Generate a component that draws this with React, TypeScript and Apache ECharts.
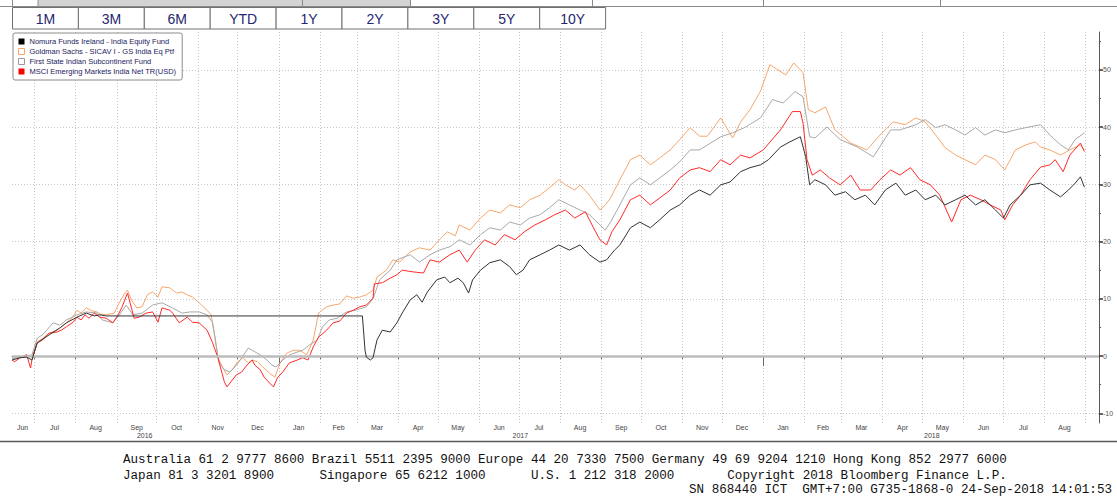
import { useEffect, useRef } from 'react';
import * as echarts from 'echarts';

const seriesNames = [
  'Nomura Funds Ireland - India Equity Fund',
  'Goldman Sachs - SICAV I - GS India Eq Ptf',
  'First State Indian Subcontinent Fund',
  'MSCI Emerging Markets India Net TR(USD)',
];

const nomuraIndia: [string, number][] = [
  ['2016-06-14', -0.7], ['2016-06-20', -0.3], ['2016-06-25', -0.2], ['2016-06-29', -0.7],
  ['2016-07-03', 2.3], ['2016-07-12', 3.7], ['2016-07-20', 4.9], ['2016-07-25', 5.8],
  ['2016-08-02', 6.8], ['2016-08-09', 7.5], ['2016-08-15', 7.0], ['2016-08-19', 7.2], ['2016-08-24', 7.0],
  ['2017-03-05', 7.0], ['2017-03-07', 1.0], ['2017-03-08', -0.2], ['2017-03-11', -0.7], ['2017-03-13', -0.3],
  ['2017-03-16', 2.8], ['2017-03-20', 4.5], ['2017-03-26', 4.2], ['2017-03-31', 5.8],
  ['2017-04-04', 7.5], ['2017-04-10', 9.8], ['2017-04-15', 10.7], ['2017-04-19', 9.4], ['2017-04-23', 11.2], ['2017-04-30', 13.3],
  ['2017-05-06', 13.8], ['2017-05-10', 12.8], ['2017-05-16', 13.6], ['2017-05-20', 12.8], ['2017-05-24', 11.0], ['2017-05-27', 13.3],
  ['2017-06-02', 15.0], ['2017-06-09', 16.3], ['2017-06-17', 16.8], ['2017-06-24', 15.6], ['2017-06-29', 14.2],
  ['2017-07-04', 15.0], ['2017-07-09', 16.8], ['2017-07-17', 17.7], ['2017-07-24', 18.5], ['2017-07-31', 19.4],
  ['2017-08-08', 18.5], ['2017-08-16', 19.4], ['2017-08-23', 17.7], ['2017-08-31', 16.4],
  ['2017-09-05', 16.8], ['2017-09-11', 18.5], ['2017-09-15', 19.4], ['2017-09-23', 22.4], ['2017-09-30', 23.4],
  ['2017-10-08', 22.4], ['2017-10-15', 23.8], ['2017-10-23', 25.5], ['2017-10-30', 26.4],
  ['2017-11-07', 28.1], ['2017-11-14', 29.0], ['2017-11-22', 28.1], ['2017-11-30', 29.9],
  ['2017-12-07', 30.4], ['2017-12-15', 32.2], ['2017-12-22', 32.9], ['2017-12-30', 33.4],
  ['2018-01-05', 34.3], ['2018-01-14', 36.5], ['2018-01-21', 37.4], ['2018-01-29', 38.3],
  ['2018-02-02', 34.8], ['2018-02-05', 29.9], ['2018-02-09', 30.8], ['2018-02-17', 29.9], ['2018-02-24', 28.1],
  ['2018-03-04', 28.7], ['2018-03-11', 27.3], ['2018-03-19', 28.1], ['2018-03-26', 26.4],
  ['2018-04-03', 29.0], ['2018-04-11', 30.2], ['2018-04-18', 28.1], ['2018-04-26', 29.0],
  ['2018-05-03', 27.3], ['2018-05-11', 28.1], ['2018-05-18', 26.4], ['2018-05-26', 27.3],
  ['2018-06-02', 28.1], ['2018-06-10', 26.4], ['2018-06-17', 27.3], ['2018-06-25', 25.5],
  ['2018-07-01', 24.1], ['2018-07-06', 26.4], ['2018-07-14', 28.1], ['2018-07-21', 29.9], ['2018-07-29', 30.2],
  ['2018-08-05', 29.0], ['2018-08-13', 27.8], ['2018-08-19', 29.0], ['2018-08-24', 30.2], ['2018-08-28', 31.3], ['2018-08-31', 29.5],
];

const goldmanIndia: [string, number][] = [
  ['2016-06-14', -0.3], ['2016-06-20', -0.2], ['2016-06-25', 0.2], ['2016-06-29', -0.2],
  ['2016-07-03', 2.4], ['2016-07-07', 3.1], ['2016-07-12', 4.0], ['2016-07-18', 4.5], ['2016-07-25', 5.8], ['2016-07-29', 6.6],
  ['2016-08-02', 8.0], ['2016-08-05', 7.5], ['2016-08-09', 8.4], ['2016-08-13', 7.9], ['2016-08-17', 7.7], ['2016-08-20', 7.3], ['2016-08-24', 7.2], ['2016-08-30', 7.5],
  ['2016-09-03', 9.4], ['2016-09-07', 11.0], ['2016-09-09', 11.5], ['2016-09-12', 9.8], ['2016-09-16', 8.4], ['2016-09-20', 8.6], ['2016-09-24', 10.7], ['2016-09-28', 11.2],
  ['2016-10-02', 10.3], ['2016-10-05', 12.1], ['2016-10-11', 11.9], ['2016-10-16', 11.0], ['2016-10-20', 11.2], ['2016-10-24', 10.7], ['2016-10-28', 10.3],
  ['2016-11-02', 9.3], ['2016-11-08', 8.0], ['2016-11-11', 7.2], ['2016-11-14', 3.3], ['2016-11-16', -0.2], ['2016-11-20', -2.1], ['2016-11-23', -3.3], ['2016-11-27', -2.4],
  ['2016-12-01', -1.0], ['2016-12-05', -0.3], ['2016-12-09', -1.2], ['2016-12-12', -0.7], ['2016-12-16', -1.0], ['2016-12-20', -1.9], ['2016-12-25', -3.0], ['2016-12-29', -3.7],
  ['2017-01-02', -1.2], ['2017-01-07', 0.5], ['2017-01-12', 1.0], ['2017-01-17', 1.0], ['2017-01-22', 0.2], ['2017-01-27', 2.8], ['2017-01-31', 7.5],
  ['2017-02-06', 8.6], ['2017-02-11', 8.9], ['2017-02-16', 9.1], ['2017-02-21', 10.5], ['2017-02-26', 10.1],
  ['2017-03-03', 10.3], ['2017-03-08', 10.7], ['2017-03-13', 11.5], ['2017-03-16', 13.8], ['2017-03-23', 15.0], ['2017-03-28', 16.8],
  ['2017-04-02', 16.4], ['2017-04-10', 18.2], ['2017-04-17', 18.9], ['2017-04-25', 18.5],
  ['2017-05-02', 20.3], ['2017-05-08', 21.7], ['2017-05-14', 21.0], ['2017-05-17', 22.9], ['2017-05-25', 22.0],
  ['2017-06-02', 24.1], ['2017-06-09', 25.5], ['2017-06-17', 25.0], ['2017-06-24', 26.4],
  ['2017-07-02', 25.9], ['2017-07-09', 27.3], ['2017-07-17', 28.1], ['2017-07-24', 29.4], ['2017-07-31', 30.8],
  ['2017-08-05', 29.9], ['2017-08-12', 29.0], ['2017-08-16', 29.9], ['2017-08-23', 28.1], ['2017-08-31', 25.5],
  ['2017-09-04', 26.4], ['2017-09-08', 27.6], ['2017-09-11', 29.0], ['2017-09-15', 30.8], ['2017-09-23', 34.3], ['2017-09-30', 35.1],
  ['2017-10-08', 33.4], ['2017-10-15', 34.6], ['2017-10-23', 36.0], ['2017-10-30', 37.8],
  ['2017-11-07', 39.9], ['2017-11-14', 38.4], ['2017-11-20', 38.4], ['2017-11-30', 41.6],
  ['2017-12-09', 38.1], ['2017-12-15', 40.9], ['2017-12-22', 43.0], ['2017-12-30', 46.3],
  ['2018-01-06', 50.9], ['2018-01-18', 49.1], ['2018-01-24', 51.2], ['2018-01-31', 49.5],
  ['2018-02-04', 43.0], ['2018-02-09', 42.5], ['2018-02-17', 43.5], ['2018-02-24', 39.5],
  ['2018-03-08', 37.2], ['2018-03-20', 36.0], ['2018-03-30', 38.6],
  ['2018-04-09', 40.9], ['2018-04-18', 40.4], ['2018-04-26', 41.6],
  ['2018-05-03', 40.9], ['2018-05-11', 38.6], ['2018-05-18', 36.4], ['2018-05-26', 35.1],
  ['2018-06-02', 34.3], ['2018-06-10', 33.4], ['2018-06-17', 35.1], ['2018-06-25', 34.3],
  ['2018-07-02', 32.5], ['2018-07-10', 36.0], ['2018-07-18', 36.9], ['2018-07-25', 37.4], ['2018-07-29', 36.5],
  ['2018-08-05', 36.0], ['2018-08-13', 35.1], ['2018-08-20', 36.0], ['2018-08-28', 36.9], ['2018-08-31', 36.0],
];

const firstStateIndia: [string, number][] = [
  ['2016-06-14', -0.5], ['2016-06-20', -0.2], ['2016-06-25', 0.0], ['2016-06-29', 0.2],
  ['2016-07-03', 3.1], ['2016-07-07', 3.7], ['2016-07-15', 5.8], ['2016-07-20', 5.4], ['2016-07-25', 6.3],
  ['2016-08-02', 7.2], ['2016-08-09', 7.7], ['2016-08-17', 7.5], ['2016-08-21', 6.3], ['2016-08-29', 5.8],
  ['2016-09-03', 7.2], ['2016-09-08', 8.9], ['2016-09-13', 7.2], ['2016-09-20', 7.5], ['2016-09-28', 8.9],
  ['2016-10-05', 9.3], ['2016-10-13', 8.4], ['2016-10-20', 7.5], ['2016-10-26', 7.7],
  ['2016-11-02', 7.7], ['2016-11-08', 7.2], ['2016-11-12', 5.9], ['2016-11-15', 1.6], ['2016-11-17', -1.2], ['2016-11-21', -2.4], ['2016-11-25', -2.8], ['2016-11-29', -1.9],
  ['2016-12-03', -0.7], ['2016-12-09', 1.4], ['2016-12-12', 1.0], ['2016-12-18', 0.2], ['2016-12-23', -0.7], ['2016-12-27', -1.6], ['2016-12-30', -1.9],
  ['2017-01-04', -0.7], ['2017-01-09', 0.2], ['2017-01-15', 0.7], ['2017-01-19', 1.0], ['2017-01-24', 1.9], ['2017-01-30', 2.8],
  ['2017-02-03', 5.1], ['2017-02-08', 6.3], ['2017-02-14', 6.6], ['2017-02-21', 7.7], ['2017-02-28', 8.0],
  ['2017-03-08', 8.6], ['2017-03-13', 10.0], ['2017-03-18', 13.3], ['2017-03-26', 15.0], ['2017-03-31', 16.8],
  ['2017-04-10', 17.7], ['2017-04-17', 16.4], ['2017-04-25', 17.7],
  ['2017-05-02', 18.5], ['2017-05-10', 19.1], ['2017-05-17', 20.3], ['2017-05-25', 19.4],
  ['2017-06-02', 21.2], ['2017-06-09', 22.4], ['2017-06-17', 22.0], ['2017-06-24', 23.4],
  ['2017-07-02', 22.9], ['2017-07-09', 24.1], ['2017-07-17', 24.7], ['2017-07-24', 25.9], ['2017-07-31', 27.3],
  ['2017-08-08', 26.4], ['2017-08-16', 25.5], ['2017-08-23', 24.7], ['2017-08-31', 22.9],
  ['2017-09-04', 22.0], ['2017-09-08', 23.4], ['2017-09-15', 26.4], ['2017-09-23', 29.9], ['2017-09-30', 31.1],
  ['2017-10-08', 29.9], ['2017-10-15', 31.1], ['2017-10-23', 32.5], ['2017-10-30', 33.9],
  ['2017-11-07', 36.0], ['2017-11-14', 36.0], ['2017-11-30', 38.3],
  ['2017-12-09', 39.0], ['2017-12-18', 39.9], ['2017-12-30', 41.6],
  ['2018-01-08', 44.8], ['2018-01-16', 44.2], ['2018-01-25', 46.2], ['2018-01-31', 45.3],
  ['2018-02-05', 38.3], ['2018-02-09', 38.1], ['2018-02-18', 40.0], ['2018-02-28', 37.8],
  ['2018-03-13', 36.5], ['2018-03-25', 34.8],
  ['2018-04-07', 39.5], ['2018-04-14', 39.5], ['2018-04-26', 40.4],
  ['2018-05-03', 41.3], ['2018-05-11', 39.9], ['2018-05-18', 40.4], ['2018-05-26', 39.5],
  ['2018-06-02', 38.6], ['2018-06-10', 39.9], ['2018-06-17', 38.6], ['2018-06-25', 39.5],
  ['2018-07-02', 39.0], ['2018-07-10', 39.5], ['2018-07-18', 39.9], ['2018-07-29', 40.4],
  ['2018-08-05', 38.6], ['2018-08-13', 36.9], ['2018-08-19', 36.0], ['2018-08-24', 37.8], ['2018-08-31', 39.0],
];

const msciIndia: [string, number][] = [
  ['2016-06-14', -0.7], ['2016-06-16', -1.0], ['2016-06-20', -0.3], ['2016-06-25', 0.2], ['2016-06-28', -2.1], ['2016-06-29', -0.7],
  ['2016-07-03', 2.3], ['2016-07-07', 2.8], ['2016-07-12', 4.0], ['2016-07-18', 4.2], ['2016-07-21', 4.5], ['2016-07-25', 5.1], ['2016-07-30', 5.9],
  ['2016-08-02', 6.8], ['2016-08-05', 6.3], ['2016-08-08', 7.2], ['2016-08-11', 6.6], ['2016-08-15', 7.5], ['2016-08-19', 6.8], ['2016-08-24', 6.6], ['2016-08-29', 5.8],
  ['2016-09-02', 7.2], ['2016-09-05', 8.6], ['2016-09-09', 11.0], ['2016-09-12', 8.4], ['2016-09-14', 6.6], ['2016-09-18', 6.8], ['2016-09-23', 7.5], ['2016-09-28', 7.7],
  ['2016-10-02', 5.9], ['2016-10-05', 8.4], ['2016-10-11', 8.0], ['2016-10-13', 7.5], ['2016-10-18', 5.8], ['2016-10-24', 6.8], ['2016-10-28', 5.9],
  ['2016-11-02', 5.8], ['2016-11-08', 4.5], ['2016-11-12', 2.4], ['2016-11-16', -0.2], ['2016-11-19', -2.8], ['2016-11-21', -4.5], ['2016-11-23', -5.4], ['2016-11-27', -4.2], ['2016-11-30', -3.3],
  ['2016-12-04', -2.8], ['2016-12-08', -1.6], ['2016-12-12', -0.7], ['2016-12-14', -1.6], ['2016-12-18', -2.4], ['2016-12-21', -3.7], ['2016-12-25', -4.7], ['2016-12-28', -5.4], ['2016-12-31', -3.8],
  ['2017-01-04', -2.8], ['2017-01-09', -1.2], ['2017-01-15', -0.7], ['2017-01-19', -0.3], ['2017-01-23', -0.7], ['2017-01-27', 1.6], ['2017-01-31', 3.3],
  ['2017-02-06', 4.5], ['2017-02-11', 5.8], ['2017-02-16', 6.1], ['2017-02-21', 7.5], ['2017-02-26', 8.0],
  ['2017-03-03', 8.6], ['2017-03-08', 8.9], ['2017-03-13', 10.1], ['2017-03-14', 12.6], ['2017-03-20', 12.8], ['2017-03-26', 13.6], ['2017-03-31', 14.2],
  ['2017-04-04', 15.0], ['2017-04-12', 14.7], ['2017-04-20', 14.5], ['2017-04-25', 16.8],
  ['2017-05-02', 16.4], ['2017-05-10', 17.7], ['2017-05-17', 18.5], ['2017-05-23', 16.4], ['2017-05-29', 18.5],
  ['2017-06-05', 20.3], ['2017-06-13', 19.4], ['2017-06-20', 21.2], ['2017-06-28', 20.3],
  ['2017-07-05', 21.7], ['2017-07-13', 22.9], ['2017-07-21', 23.8], ['2017-07-28', 24.7],
  ['2017-08-05', 25.5], ['2017-08-12', 24.1], ['2017-08-20', 25.2], ['2017-08-27', 22.0], ['2017-08-31', 20.3],
  ['2017-09-05', 19.4], ['2017-09-09', 21.7], ['2017-09-15', 23.8], ['2017-09-23', 27.3], ['2017-09-30', 28.1],
  ['2017-10-08', 26.4], ['2017-10-15', 27.6], ['2017-10-23', 29.0], ['2017-10-30', 31.1],
  ['2017-11-07', 32.5], ['2017-11-14', 32.9], ['2017-11-22', 32.2], ['2017-11-30', 34.3],
  ['2017-12-07', 33.4], ['2017-12-15', 35.1], ['2017-12-22', 34.6],
  ['2018-01-01', 36.0], ['2018-01-14', 39.5], ['2018-01-23', 42.7], ['2018-01-29', 42.7], ['2018-01-31', 40.7],
  ['2018-02-03', 34.3], ['2018-02-07', 31.6], ['2018-02-13', 32.5], ['2018-02-20', 31.1], ['2018-02-28', 29.9],
  ['2018-03-08', 31.6], ['2018-03-15', 29.0], ['2018-03-23', 29.0], ['2018-03-30', 30.8],
  ['2018-04-07', 32.5], ['2018-04-14', 31.6], ['2018-04-22', 32.9], ['2018-04-29', 30.8],
  ['2018-05-07', 29.9], ['2018-05-14', 28.1], ['2018-05-23', 23.4], ['2018-05-30', 27.3],
  ['2018-06-06', 28.1], ['2018-06-14', 27.3], ['2018-06-21', 26.4], ['2018-06-29', 25.5],
  ['2018-07-02', 23.8], ['2018-07-08', 26.4], ['2018-07-14', 28.1], ['2018-07-21', 30.8], ['2018-07-29', 33.0],
  ['2018-08-05', 33.4], ['2018-08-09', 34.3], ['2018-08-15', 32.2], ['2018-08-20', 35.1], ['2018-08-28', 37.2], ['2018-08-31', 35.7],
];

const xMin = '2016-06-14';
const xMax = '2018-09-11';
const yMin = -11.7;
const yMax = 56.6;

const monthTickDates = [
  '2016-07-01', '2016-08-01', '2016-09-01', '2016-10-01', '2016-11-01', '2016-12-01',
  '2017-01-01', '2017-02-01', '2017-03-01', '2017-04-01', '2017-05-01', '2017-06-01',
  '2017-07-01', '2017-08-01', '2017-09-01', '2017-10-01', '2017-11-01', '2017-12-01',
  '2018-01-01', '2018-02-01', '2018-03-01', '2018-04-01', '2018-05-01', '2018-06-01',
  '2018-07-01', '2018-08-01', '2018-09-01',
];
const monthLabelDates = [
  '2016-06-22', '2016-07-16', '2016-08-16', '2016-09-16', '2016-10-16', '2016-11-16', '2016-12-16',
  '2017-01-16', '2017-02-15', '2017-03-16', '2017-04-16', '2017-05-16', '2017-06-16',
  '2017-07-16', '2017-08-16', '2017-09-16', '2017-10-16', '2017-11-16', '2017-12-16',
  '2018-01-16', '2018-02-15', '2018-03-16', '2018-04-16', '2018-05-16', '2018-06-16',
  '2018-07-16', '2018-08-16',
];
const monthLabels = [
  'Jun', 'Jul', 'Aug', 'Sep', 'Oct', 'Nov', 'Dec',
  'Jan', 'Feb', 'Mar', 'Apr', 'May', 'Jun', 'Jul', 'Aug', 'Sep', 'Oct', 'Nov', 'Dec',
  'Jan', 'Feb', 'Mar', 'Apr', 'May', 'Jun', 'Jul', 'Aug',
];
const yearLabelDates = ['2016-09-22', '2017-07-02', '2018-05-08'];
const yearLabels = ['2016', '2017', '2018'];
const yearBoundaryDates = ['2017-01-01', '2018-01-01'];

const yMajorTicks = [-10, 0, 10, 20, 30, 40, 50];
const yMinorTicks = [-5, 5, 15, 25, 35, 45, 55];
const zeroLine = 0;

const periodButtons = ['1M', '3M', '6M', 'YTD', '1Y', '2Y', '3Y', '5Y', '10Y'];

const footerLine1 =
  'Australia 61 2 9777 8600 Brazil 5511 2395 9000 Europe 44 20 7330 7500 Germany 49 69 9204 1210 Hong Kong 852 2977 6000';
const footerLine2 =
  'Japan 81 3 3201 8900      Singapore 65 6212 1000      U.S. 1 212 318 2000       Copyright 2018 Bloomberg Finance L.P.';
const footerLine3 = 'SN 868440 ICT  GMT+7:00 G735-1868-0 24-Sep-2018 14:01:53';

const toTs = (s: string) => {
  const [y, m, d] = s.split('-').map(Number);
  return Date.UTC(y, m - 1, d);
};
const nearestIdx = (arr: number[], v: number) => {
  let best = 0;
  let bd = Infinity;
  arr.forEach((t, i) => {
    const d = Math.abs(t - v);
    if (d < bd) {
      bd = d;
      best = i;
    }
  });
  return best;
};

export default function App() {
  const ref = useRef<HTMLDivElement>(null);

  useEffect(() => {
    if (!ref.current) return;
    const chart = echarts.init(ref.current, null, { renderer: 'svg' });

    const monthLabelTs = monthLabelDates.map(toTs);
    const yearLabelTs = yearLabelDates.map(toTs);
    const toPoints = (arr: [string, number][]) => arr.map(([d, v]) => [toTs(d), v]);

    const colors = ['#333333', '#f7a66b', '#a8a8a8', '#ff2a2a'];
    const fontSans = 'Liberation Sans, Arial, sans-serif';
    const fontMono = 'Liberation Mono, DejaVu Sans Mono, monospace';

    const btnW = 65.9;
    const buttons = periodButtons.map((label, i) => ({
      type: 'group',
      children: [
        {
          type: 'rect',
          shape: { x: 12.5 + i * btnW, y: 7.5, width: btnW, height: 21.5 },
          style: { fill: '#ffffff', stroke: '#707070', lineWidth: 1 },
        },
        {
          type: 'text',
          x: 12.5 + i * btnW + btnW / 2,
          y: 18.5,
          style: {
            text: label,
            fontSize: 14,
            fontFamily: fontSans,
            fill: '#26266e',
            align: 'center',
            verticalAlign: 'middle',
          },
        },
      ],
    }));

    const dividers = [12.5, 38, 302.5, 410.5, 592.5, 763.5, 940.5].map((x) => ({
      type: 'line',
      shape: { x1: x, y1: 0, x2: x, y2: 6.5 },
      style: { stroke: '#8a8a8a', lineWidth: 1 },
    }));

    const footerText = (text: string, x: number, y: number, align: string) => ({
      type: 'text',
      x,
      y,
      scaleX: 0.933,
      style: {
        text,
        fontSize: 13.5,
        fontFamily: fontMono,
        fill: '#111111',
        align,
        verticalAlign: 'middle',
      },
    });

    const lineSeries = (name: string, data: [string, number][], color: string, z: number, extra: any = {}) => ({
      type: 'line',
      name,
      data: toPoints(data),
      showSymbol: false,
      symbol: 'none',
      z,
      lineStyle: { color, width: 1 },
      itemStyle: { color },
      ...extra,
    });

    const option: any = {
      animation: false,
      backgroundColor: '#ffffff',
      textStyle: { fontFamily: fontSans },
      grid: { left: 12, right: 18, top: 32, bottom: 74, containLabel: false, outerBoundsMode: 'none' },
      legend: {
        orient: 'vertical',
        left: 13,
        top: 33,
        itemWidth: 6,
        itemHeight: 6,
        itemGap: 1,
        padding: [4, 6, 4, 5],
        backgroundColor: '#ffffff',
        borderColor: '#8c8c8c',
        borderWidth: 1,
        borderRadius: 2,
        selectedMode: false,
        textStyle: { fontSize: 7.5, color: '#22225e', fontFamily: fontSans, lineHeight: 9 },
        data: [
          { name: seriesNames[0], icon: 'rect', itemStyle: { color: '#000000', borderWidth: 0 } },
          { name: seriesNames[1], icon: 'rect', itemStyle: { color: '#ffffff', borderColor: colors[1], borderWidth: 1 } },
          { name: seriesNames[2], icon: 'rect', itemStyle: { color: '#ffffff', borderColor: '#9a9a9a', borderWidth: 1 } },
          { name: seriesNames[3], icon: 'rect', itemStyle: { color: '#ff0000', borderWidth: 0 } },
        ],
      },
      xAxis: [
        {
          type: 'value',
          min: toTs(xMin),
          max: toTs(xMax),
          position: 'bottom',
          axisLine: { show: true, lineStyle: { color: '#5a5a5a', width: 1 } },
          axisTick: { show: true, customValues: monthTickDates.map(toTs), length: 3, lineStyle: { color: '#5a5a5a' } },
          axisLabel: {
            show: true,
            customValues: monthLabelTs,
            formatter: (v: number) => monthLabels[nearestIdx(monthLabelTs, v)],
            fontSize: 7,
            color: '#444444',
            margin: 1,
            fontFamily: fontSans,
          },
          splitLine: { show: true, lineStyle: { color: '#c6c6c6', width: 1, type: [1, 2] } },
        },
        {
          type: 'value',
          min: toTs(xMin),
          max: toTs(xMax),
          position: 'bottom',
          offset: 8,
          axisLine: { show: false },
          axisTick: { show: true, customValues: yearBoundaryDates.map(toTs), length: 10, lineStyle: { color: '#6a6a6a' } },
          axisLabel: {
            show: true,
            customValues: yearLabelTs,
            formatter: (v: number) => yearLabels[nearestIdx(yearLabelTs, v)],
            fontSize: 7,
            color: '#444444',
            margin: 1,
            fontFamily: fontSans,
          },
          splitLine: { show: false },
        },
      ],
      yAxis: [
        {
          type: 'value',
          position: 'right',
          min: yMin,
          max: yMax,
          axisLine: { show: true, lineStyle: { color: '#5a5a5a', width: 1 } },
          axisTick: { show: true, customValues: yMajorTicks, length: 4, lineStyle: { color: '#333333', width: 1.5 } },
          axisLabel: {
            show: true,
            customValues: yMajorTicks,
            fontSize: 7,
            color: '#555555',
            margin: 4,
            fontFamily: fontSans,
          },
          splitLine: { show: true, lineStyle: { color: '#c6c6c6', width: 1, type: [1, 2] } },
        },
        {
          type: 'value',
          position: 'right',
          min: yMin,
          max: yMax,
          axisLine: { show: false },
          axisTick: { show: true, customValues: yMinorTicks, length: 2, lineStyle: { color: '#555555' } },
          axisLabel: { show: false },
          splitLine: { show: false },
        },
      ],
      series: [
        lineSeries(seriesNames[1], goldmanIndia, colors[1], 2, {
          markLine: {
            silent: true,
            symbol: ['none', 'none'],
            label: { show: false },
            lineStyle: { color: '#bcbcbc', width: 2.5, type: 'solid' },
            data: [{ yAxis: zeroLine }],
          },
        }),
        lineSeries(seriesNames[2], firstStateIndia, colors[2], 3),
        lineSeries(seriesNames[3], msciIndia, colors[3], 4),
        lineSeries(seriesNames[0], nomuraIndia, colors[0], 5),
      ],
      graphic: [
        { type: 'rect', shape: { x: 38, y: 0, width: 264, height: 6 }, style: { fill: '#d3d3d3' } },
        { type: 'rect', shape: { x: 303, y: 0, width: 107, height: 6 }, style: { fill: '#d3d3d3' } },
        { type: 'line', shape: { x1: 0, y1: 6.5, x2: 1117, y2: 6.5 }, style: { stroke: '#8a8a8a', lineWidth: 1 } },
        ...dividers,
        ...buttons,
        { type: 'line', shape: { x1: 0, y1: 441.5, x2: 1117, y2: 441.5 }, style: { stroke: '#5a5a5a', lineWidth: 1.5 } },
        footerText(footerLine1, 123, 459, 'left'),
        footerText(footerLine2, 123, 475, 'left'),
        footerText(footerLine3, 1112, 489.5, 'right'),
      ],
    };

    chart.setOption(option);
    return () => chart.dispose();
  }, []);

  return (
    <div
      ref={ref}
      style={{ position: 'absolute', left: 0, top: 0, width: 1117, height: 497, background: '#ffffff' }}
    />
  );
}
